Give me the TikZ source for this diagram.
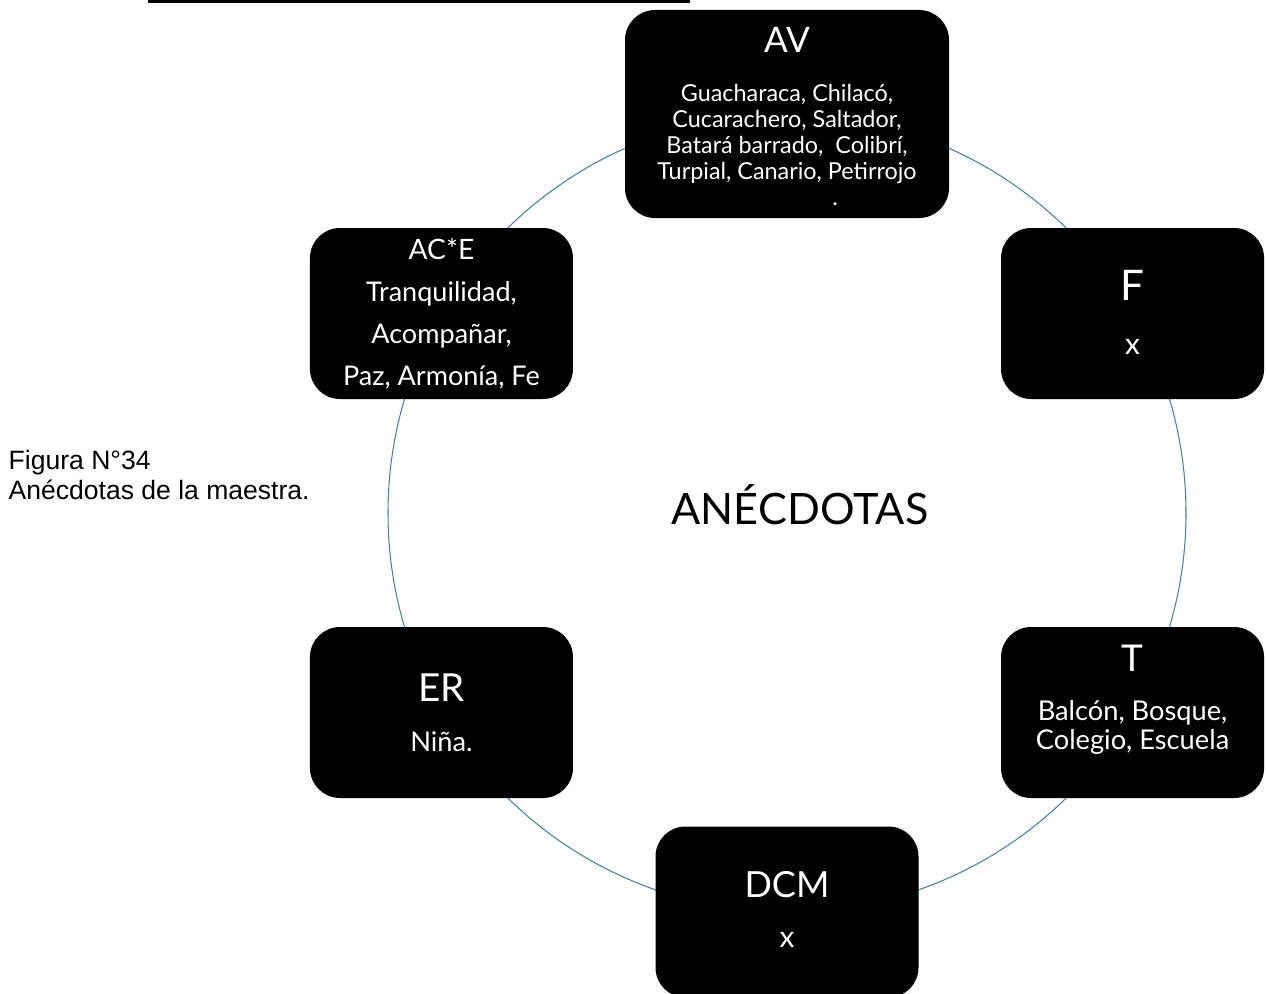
\documentclass[tikz,border=0pt]{standalone}
\usepackage{fontspec}
\setmainfont{Lato}
\newfontfamily\capfont{Liberation Sans}
\usetikzlibrary{positioning,calc}

\begin{document}
\begin{tikzpicture}[thick,
        box node/.style={draw=none,fill=black,rounded corners=0.6cm,minimum width=5.26cm,minimum height=3.42cm},
        big box/.style={box node,minimum width=6.48cm,minimum height=4.16cm},
        head text/.style={text=white,font=\fontsize{21}{26}\selectfont},
        body text/.style={text=white,align=center,font=\fontsize{15.5}{17}\selectfont}]

        % frame and ring
        \useasboundingbox (0,0) rectangle (25.32,-19.86);
        \coordinate (c) at (15.74,-10.26);
        \draw[color={rgb,255:red,70;green,130;blue,165},line width=0.6pt] (c) circle (7.98cm);
        \draw[line width=2.5pt] (2.96,-0.02) -- (13.8,-0.02);

        % Define boxes
        \node[big box] (av) at ($(c)+(90:7.98)$) {};
        \node[box node] (f) at ($(c)+(30:7.98)$) {};
        \node[box node] (t) at ($(c)+(-30:7.98)$) {};
        \node[box node] (dcm) at ($(c)+(-90:7.98)$) {};
        \node[box node] (er) at ($(c)+(-150:7.98)$) {};
        \node[box node] (ace) at ($(c)+(150:7.98)$) {};

        % texts
        \node[head text,font=\fontsize{20}{26}\selectfont] (av-h) at ([yshift=1.48cm]av.center) {AV};
        \node[body text,font=\fontsize{13.3}{14.8}\selectfont] (av-b) at ([yshift=-0.61cm]av.center)
            {Guacharaca, Chilacó,\\Cucarachero, Saltador,\\Batará barrado,~ Colibrí,\\Turpial, Canario, Petirrojo\\\hspace*{1.92cm}.};
        \node[body text,font=\fontsize{16}{17}\selectfont] (ace-h) at ([yshift=1.28cm]ace.center) {AC*E};
        \node[body text,font=\fontsize{15.4}{23.9}\selectfont] (ace-b) at ([yshift=-0.44cm]ace.center)
            {Tranquilidad,\\Acompañar,\\Paz, Armonía, Fe};
        \node[head text,font=\fontsize{24}{28}\selectfont] (f-h) at ([yshift=0.56cm]f.center) {F};
        \node[body text,font=\fontsize{17}{17}\selectfont] (f-b) at ([yshift=-0.66cm]f.center) {x};
        \node[head text] (t-h) at ([yshift=1.08cm]t.center) {T};
        \node[body text] (t-b) at ([yshift=-0.3cm]t.center) {Balcón, Bosque,\\Colegio, Escuela};
        \node[head text,font=\fontsize{20.5}{26}\selectfont] (dcm-h) at ([yshift=0.54cm]dcm.center) {DCM};
        \node[body text,font=\fontsize{17}{17}\selectfont] (dcm-b) at ([yshift=-0.56cm]dcm.center) {x};
        \node[head text,font=\fontsize{22}{26}\selectfont] (er-h) at ([yshift=0.5cm]er.center) {ER};
        \node[body text] (er-b) at ([yshift=-0.58cm]er.center) {Niña.};

        \node[font=\fontsize{24.6}{30}\selectfont] (mid) at (16.0,-10.1) {ANÉCDOTAS};
        \node[anchor=west,align=left,inner sep=0pt,font=\capfont\fontsize{15.1}{17}\selectfont] (cap) at (0.16,-9.5)
            {Figura N°34\\Anécdotas de la maestra.};
\end{tikzpicture}
\end{document}
